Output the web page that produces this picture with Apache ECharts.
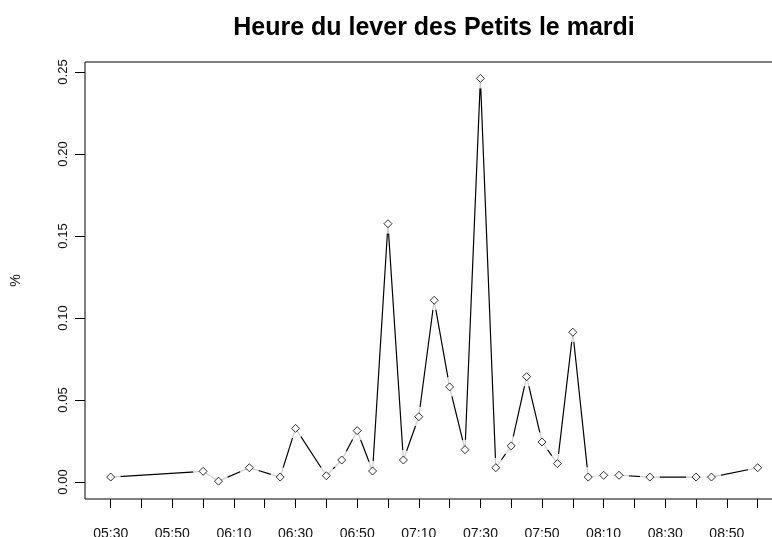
<!DOCTYPE html>
<html>
<head>
<meta charset="utf-8">
<script src="https://cdn.jsdelivr.net/npm/echarts@6/dist/echarts.min.js"></script>
<style>
  html, body { margin: 0; padding: 0; background: #fff; }
  #chart { width: 772px; height: 537px; }
</style>
</head>
<body>
<div id="chart"></div>
<script>
// heure du lever (hh:mm) et part des petits levés à cette heure
const times = ['05:30', '06:00', '06:05', '06:15', '06:25', '06:30', '06:40', '06:45', '06:50', '06:55',
  '07:00', '07:05', '07:10', '07:15', '07:20', '07:25', '07:30', '07:35', '07:40', '07:45',
  '07:50', '07:55', '08:00', '08:05', '08:10', '08:15', '08:25', '08:40', '08:45', '09:00']
const shares = [0.003, 0.0065, 0.0005, 0.0087, 0.003, 0.0327, 0.0038, 0.0134, 0.0313, 0.0067,
  0.1575, 0.0134, 0.0398, 0.1108, 0.058, 0.0197, 0.2461, 0.0087, 0.022, 0.0642,
  0.0244, 0.0112, 0.0913, 0.003, 0.0041, 0.0041, 0.003, 0.003, 0.003, 0.0087]

const xTicks = ['05:30', '05:40', '05:50', '06:00', '06:10', '06:20', '06:30', '06:40', '06:50', '07:00', '07:10',
  '07:20', '07:30', '07:40', '07:50', '08:00', '08:10', '08:20', '08:30', '08:40', '08:50', '09:00']
const xLabels = ['05:30', '05:50', '06:10', '06:30', '06:50', '07:10', '07:30', '07:50', '08:10', '08:30', '08:50']
const yTicks = [0, 0.05, 0.1, 0.15, 0.2, 0.25]

const toMin = t => {
  const [h, m] = t.split(':').map(Number)
  return h * 60 + m
}
const fmt = v => {
  const h = Math.floor(v / 60)
  const m = Math.round(v - h * 60)
  return `${String(h).padStart(2, '0')}:${String(m).padStart(2, '0')}`
}

const points = times.map((t, i) => [toMin(t), shares[i]])
const font = '"Liberation Sans", Arial, sans-serif'

const chart = echarts.init(document.getElementById('chart'))
chart.setOption({
  animation: false,
  backgroundColor: '#ffffff',
  title: {
    text: 'Heure du lever des Petits le mardi',
    left: 429,
    top: 11,
    textAlign: 'center',
    textStyle: { fontFamily: font, fontSize: 25, fontWeight: 'bold', color: '#000' }
  },
  grid: {
    left: 85,
    top: 62,
    right: -1,
    bottom: 38,
    show: true,
    borderColor: '#000',
    borderWidth: 1,
    containLabel: false,
    outerBoundsMode: 'none'
  },
  xAxis: {
    type: 'value',
    min: 321.66,
    max: 544.97,
    splitLine: { show: false },
    axisLine: { show: false, onZero: false },
    axisTick: {
      show: true,
      length: 9,
      lineStyle: { color: '#000' },
      customValues: xTicks.map(toMin)
    },
    axisLabel: {
      margin: 28,
      fontFamily: font,
      fontSize: 14,
      color: '#111',
      customValues: xLabels.map(toMin),
      formatter: v => fmt(v)
    }
  },
  yAxis: {
    type: 'value',
    min: -0.01037,
    max: 0.2561,
    name: '%',
    nameLocation: 'middle',
    nameRotate: 90,
    nameGap: 62,
    nameTextStyle: { fontFamily: font, fontSize: 14, color: '#111' },
    splitLine: { show: false },
    axisLine: { show: false, onZero: false },
    axisTick: {
      show: true,
      length: 10,
      lineStyle: { color: '#000' },
      customValues: yTicks
    },
    axisLabel: {
      rotate: 90,
      margin: 15,
      fontFamily: font,
      fontSize: 13,
      color: '#111',
      customValues: yTicks,
      formatter: v => v.toFixed(2)
    }
  },
  series: [
    {
      type: 'line',
      data: points,
      showSymbol: false,
      symbol: 'none',
      lineStyle: { color: '#000', width: 1.2 },
      z: 2
    },
    {
      // blancs autour des points (comme type = "b" dans R)
      type: 'scatter',
      data: points,
      symbol: 'circle',
      symbolSize: 20,
      itemStyle: { color: '#fff' },
      silent: true,
      z: 3
    },
    {
      type: 'scatter',
      data: points,
      symbol: 'diamond',
      symbolSize: 8,
      itemStyle: { color: '#fff', borderColor: '#000', borderWidth: 1 },
      z: 4
    }
  ]
})
</script>
</body>
</html>
